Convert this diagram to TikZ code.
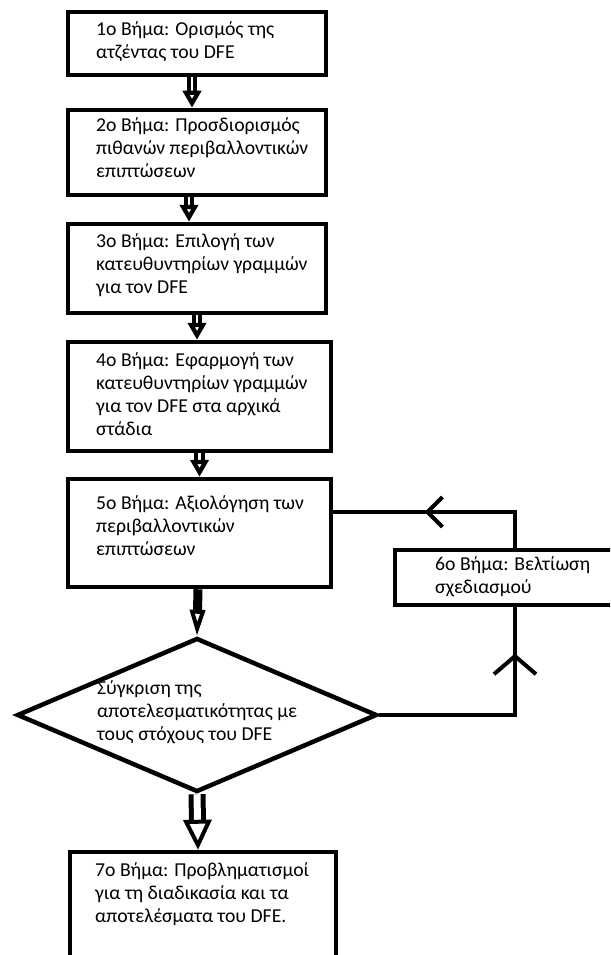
\documentclass[tikz,border=0pt]{standalone}
\usepackage{fontspec}
\setmainfont{Carlito}
\usetikzlibrary{shapes.geometric,arrows.meta,decorations.markings}
\begin{document}
\begin{tikzpicture}[x=1pt, y=-1pt,
    stepbox/.style={draw, line width=4.5pt, minimum width=258pt, inner sep=0pt},
    steptext/.style={anchor=north west, align=left, inner sep=0pt, font=\fontsize{19.7}{23}\selectfont},
    decision/.style={draw, diamond, line width=4.5pt, minimum width=360pt, minimum height=154pt, inner sep=0pt},
    dblarrow/.style={double, double distance=2.5pt, line width=4pt, -{Triangle[open, length=17pt, width=18pt, line width=4.5pt]}},
    looparrow/.style={line width=4pt, postaction={decorate}}]
    \useasboundingbox (0,0) rectangle (610,955);
    \clip (0,0) rectangle (610,955);
    \node[stepbox, minimum height=63pt] (s1) at (197,43.5) {};
    \node[steptext] (t1) at (96,21.5) {1ο Βήμα: Ορισμός της\\ατζέντας του DFE};
    \node[stepbox, minimum height=85pt] (s2) at (197,152.5) {};
    \node[steptext] (t2) at (96,117.5) {2ο Βήμα: Προσδιορισμός\\πιθανών περιβαλλοντικών\\επιπτώσεων};
    \node[stepbox, minimum height=89pt] (s3) at (197,268.5) {};
    \node[steptext] (t3) at (96,233.5) {3ο Βήμα: Επιλογή των\\κατευθυντηρίων γραμμών\\για τον DFE};
    \node[stepbox, minimum width=263pt, minimum height=109pt] (s4) at (199.5,396.5) {};
    \node[steptext] (t4) at (96,352.5) {4ο Βήμα: Εφαρμογή των\\κατευθυντηρίων γραμμών\\για τον DFE στα αρχικά\\στάδια};
    \node[stepbox, minimum width=263pt, minimum height=108pt] (s5) at (199.5,533) {};
    \node[steptext] (t5) at (96,495.5) {5ο Βήμα: Αξιολόγηση των\\περιβαλλοντικών\\επιπτώσεων};
    \node[stepbox, minimum width=240pt, minimum height=55pt] (s6) at (515,577.5) {};
    \node[steptext] (t6) at (435,556.5) {6ο Βήμα: Βελτίωση\\σχεδιασμού};
    \node[decision] (cmp) at (197,715) {};
    \node[steptext] (tc) at (97,680.5) {Σύγκριση της\\αποτελεσματικότητας με\\τους στόχους του DFE};
    \node[stepbox, minimum width=266pt, minimum height=133pt] (s7) at (203,918.5) {};
    \node[steptext] (t7) at (95,862.5) {7ο Βήμα: Προβληματισμοί\\για τη διαδικασία και τα\\αποτελέσματα του DFE.};
    \draw[dblarrow] ([xshift=-5pt]s1.south) -- ([xshift=-5pt]s2.north);
    \draw[dblarrow] ([xshift=-8pt]s2.south) -- ([xshift=-8pt]s3.north);
    \draw[dblarrow] (s3.south) -- ([xshift=-2.5pt]s4.north);
    \draw[dblarrow] (s4.south) -- (s5.north);
    \draw[line width=9pt, -{Triangle[open, length=26pt, width=15pt, line width=4pt]}] ([xshift=-1.5pt]s5.south) -- (cmp.north);
    \draw[double, double distance=7pt, line width=5pt, -{Triangle[open, length=30pt, width=28pt, line width=4pt]}] (cmp.south) -- ([xshift=-5pt]s7.north);
    \draw[looparrow, decoration={markings, mark=at position 0.58 with {\arrow{Straight Barb[length=15pt, width=30pt, line width=4pt]}}}]
        (s6.north) |- ([yshift=21pt]s5.east);
    \draw[looparrow, decoration={markings, mark=at position 0.81 with {\arrow{Straight Barb[length=18pt, width=42pt, line width=4pt]}}}]
        (cmp.east) -| (s6.south);
\end{tikzpicture}
\end{document}
